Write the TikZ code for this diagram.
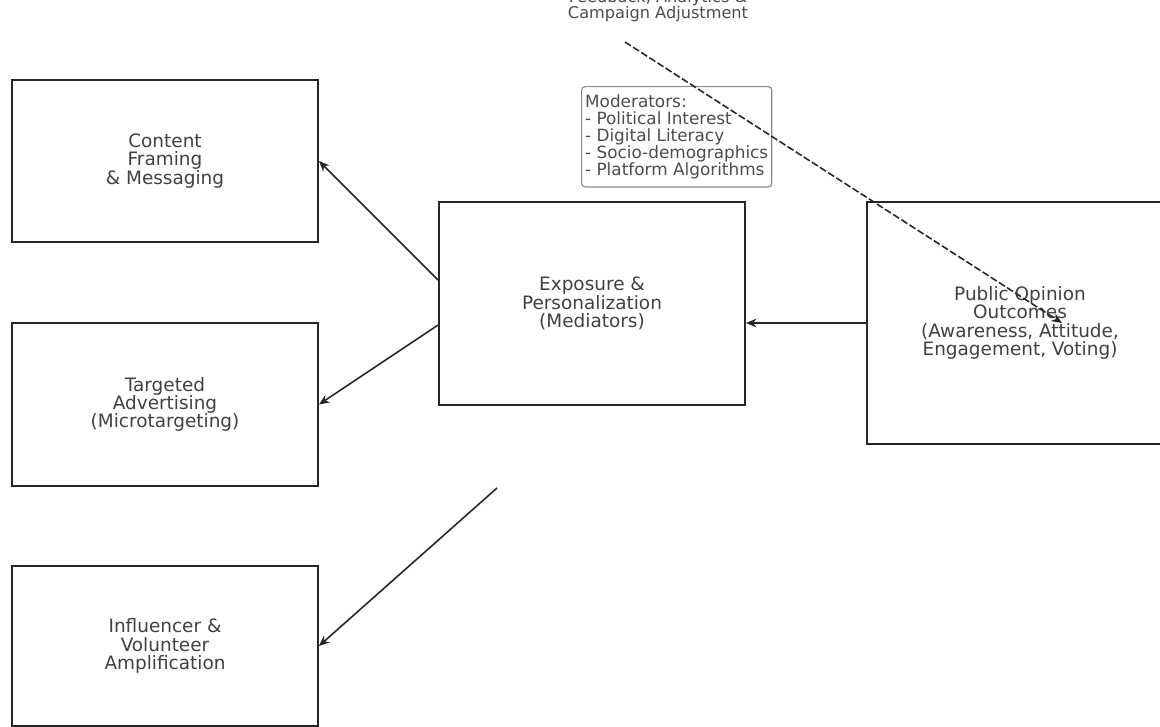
\documentclass[tikz,border=0pt]{standalone}
\usepackage{fontspec}
\setmainfont{DejaVu Sans}
\usetikzlibrary{arrows.meta}

\begin{document}
\begin{tikzpicture}[x=0.02cm, y=-0.02cm,
    box/.style={draw=black!85, line width=1.1pt, minimum width=6.12cm, align=center, text=black!75, font=\fontsize{10.5}{10.4}\selectfont},
    link/.style={-{Stealth[length=6pt, width=5pt]}, line width=0.9pt, draw=black!85},
    note/.style={text=black!70, font=\fontsize{9.6}{9.7}\selectfont}]
    \useasboundingbox (0,0) rectangle (1160,727);
    % left column
    \node[box, minimum height=3.24cm] (framing) at (165,161) {Content\\Framing\\\& Messaging};
    \node[box, minimum height=3.26cm] (target) at (165,404.5) {Targeted\\Advertising\\(Microtargeting)};
    \node[box, minimum height=3.2cm] (influ) at (165,646) {Influencer \&\\Volunteer\\Amplification};
    % middle and right
    \node[box, minimum height=4.06cm] (expo) at (592,303.5) {Exposure \&\\Personalization\\(Mediators)};
    \node[box, minimum height=4.84cm] (opinion) at (1020,323) {Public Opinion\\Outcomes\\(Awareness, Attitude,\\Engagement, Voting)};
    \node[note, draw=black!45, rounded corners=2pt, line width=0.7pt, align=left, inner xsep=2pt, inner ysep=4.5pt, anchor=north west] (moder) at (581,86) {Moderators:\\- Political Interest\\- Digital Literacy\\- Socio-demographics\\- Platform Algorithms};
    \node[note, align=center, font=\fontsize{9.2}{9.6}\selectfont] (feedback) at (658,6) {Feedback, Analytics \&\\Campaign Adjustment};
    \coordinate (spread) at (497,488);
    \coordinate (fb) at (625,42);
    % connectors
    \draw[link] ([yshift=0.47cm]expo.west) -- (framing.east);
    \draw[link] ([yshift=-0.43cm]expo.west) -- (target.east);
    \draw[link] (spread) -- (influ.east);
    \draw[link] (opinion.west) -- (opinion.west -| expo.east);
    \draw[link, dash pattern=on 4pt off 1.5pt] (fb) -- ([xshift=0.84cm]opinion.center);
\end{tikzpicture}
\end{document}
